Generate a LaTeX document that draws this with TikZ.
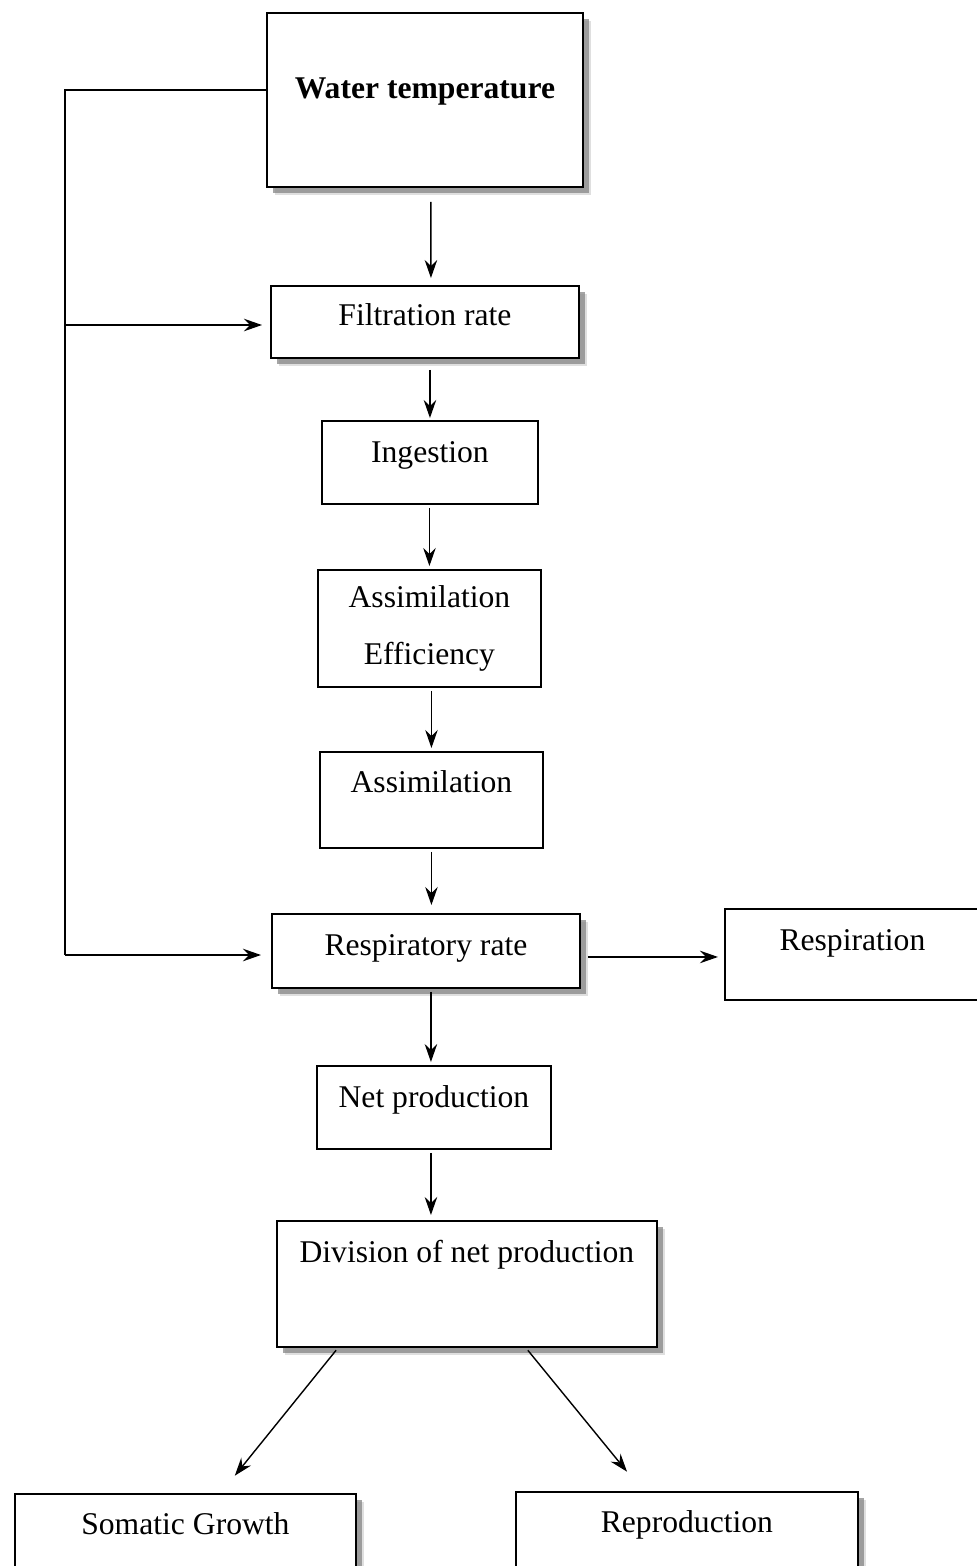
\documentclass[tikz,border=0pt]{standalone}
\usepackage{fontspec}
\setmainfont{Liberation Serif}
\usetikzlibrary{arrows.meta,shadows}
\tikzset{
  block/.style={draw, line width=1.1pt, fill=white, inner sep=0pt, anchor=north west,
    font=\fontsize{18}{32}\selectfont},
  shadowblock/.style={block,
    drop shadow={shadow xshift=0.17cm, shadow yshift=-0.17cm, opacity=0.25},
    drop shadow={shadow xshift=0.12cm, shadow yshift=-0.12cm, opacity=0.7}},
  link/.style={line width=0.8pt},
  flow/.style={link, -{Stealth[length=0.36cm, width=0.25cm, inset=0.12cm]},
    shorten <=0.06cm, shorten >=0.06cm}
}
\begin{document}
\begin{tikzpicture}[x=0.02cm, y=-0.02cm]
\clip (0,0) rectangle (977,1566);
\fill[white] (0,0) rectangle (977,1566);
% boxes
\node[shadowblock, minimum width=6.32cm, text height=1.72cm, text depth=1.76cm] (wt) at (266,12) {\textbf{Water temperature}};
\node[shadowblock, minimum width=6.16cm, text height=0.8cm, text depth=0.64cm] (filt) at (270,285) {Filtration rate};
\node[block, minimum width=4.32cm, text height=0.84cm, text depth=0.82cm] (ing) at (321,420) {Ingestion};
\node[block, minimum width=4.46cm, minimum height=2.34cm, align=center] (aeff) at (317,569) {Assimilation\\Efficiency};
\node[block, minimum width=4.46cm, text height=0.82cm, text depth=1.1cm] (assim) at (319,751) {Assimilation};
\node[shadowblock, minimum width=6.16cm, text height=0.84cm, text depth=0.64cm] (resprate) at (271,913) {Respiratory rate};
\node[block, minimum width=5.1cm, text height=0.84cm, text depth=0.98cm] (resp) at (724,908) {Respiration};
\node[block, minimum width=4.68cm, text height=0.84cm, text depth=0.82cm] (netprod) at (316,1065) {Net production};
\node[shadowblock, minimum width=7.6cm, text height=0.84cm, text depth=1.68cm] (div) at (276,1220) {Division of net production};
\node[shadowblock, minimum width=6.82cm, text height=0.82cm, text depth=2cm] (soma) at (14,1493) {Somatic Growth};
\node[shadowblock, minimum width=6.84cm, text height=0.82cm, text depth=2cm] (repro) at (515,1491) {Reproduction};
% main chain
\draw[flow, shorten <=0.28cm, shorten >=0.14cm] ([xshift=0.12cm]wt.south) -- ([xshift=0.12cm]filt.north);
\draw[flow, shorten <=0.22cm, shorten >=0.04cm] (filt.south -| ing.north) -- (ing.north);
\draw[flow] (ing.south -| aeff.north) -- (aeff.north);
\draw[flow] (aeff.south -| assim.north) -- (assim.north);
\draw[flow, shorten >=0.16cm] (assim.south) -- (assim.south |- resprate.north);
\draw[flow] ([xshift=0.1cm]resprate.south) -- ([xshift=0.1cm]resprate.south |- netprod.north);
\draw[flow, shorten >=0.1cm] ([xshift=-0.06cm]netprod.south) -- ([xshift=-0.06cm]netprod.south |- div.north);
\draw[flow, shorten <=0.14cm, shorten >=0.12cm] ([yshift=-0.12cm]resprate.east) -- ([yshift=-0.12cm]resprate.east -| resp.west);
\draw[flow] ([xshift=1.24cm]div.south west) -- ([xshift=0.95cm, yshift=0.3cm]soma.north);
\draw[flow] ([xshift=1.18cm]div.south) -- ([xshift=-1.16cm, yshift=0.34cm]repro.north);
% temperature feedback
\coordinate (fbtop) at (65,90);
\coordinate (fbmid) at (65,325);
\coordinate (fbbot) at (65,955);
\draw[link] (wt.west |- fbtop) -- (fbtop) -- (fbbot);
\draw[flow, shorten <=0pt, shorten >=0.2cm] (fbbot) -- (resprate.west |- fbbot);
\draw[flow, shorten <=0pt, shorten >=0.16cm] (fbmid) -- (filt.west |- fbmid);
\end{tikzpicture}
\end{document}
